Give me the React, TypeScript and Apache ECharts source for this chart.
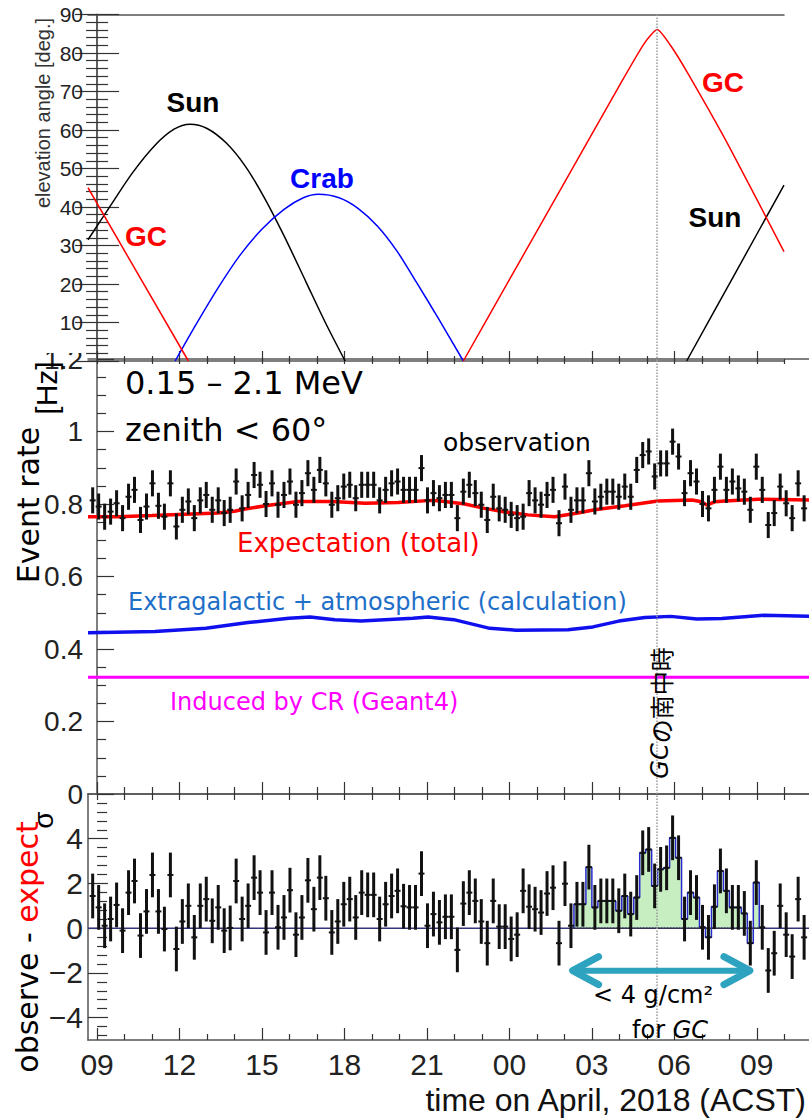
import React, { useEffect, useRef } from 'react';
import * as echarts from 'echarts';

const W = 809;
const H = 1120;

// Time axis: hours since 09:00 ACST on the first day of the run
const X_MIN = -0.33;
const X_MAX_TOP = 24.98;
const X_MAX = 25.9;

const majorHours = [0, 3, 6, 9, 12, 15, 18, 21, 24];
const majorHourLabels = ['09', '12', '15', '18', '21', '00', '03', '06', '09'];
const hourlyTicks = [0, 1, 2, 3, 4, 5, 6, 7, 8, 9, 10, 11, 12, 13, 14, 15, 16, 17, 18, 19, 20, 21, 22, 23, 24, 25];

// Transit of the Galactic Centre (hours)
const GC_TRANSIT = 20.37;

// Elevation angles [hour, deg]
const sunDay1 = [[-0.33, 31.5], [0.5, 40.5], [1.3, 49.0], [2.1, 56.0], [2.8, 60.2], [3.38, 61.5], [4.0, 60.4], [4.7, 56.6], [5.4, 50.5], [6.1, 42.2], [6.8, 32.5], [7.6, 20.5], [8.3, 10.0], [9.02, 0]];
const sunDay2 = [[21.44, 0], [23.2, 22.7], [24.98, 45.7]];
const crabElev = [[2.84, 0], [3.6, 9.5], [4.4, 19.0], [5.2, 27.5], [6.0, 34.3], [6.8, 39.4], [7.5, 42.4], [8.05, 43.3], [8.8, 42.4], [9.5, 39.6], [10.2, 35.0], [10.9, 28.6], [11.6, 20.6], [12.4, 11.2], [13.32, 0]];
const gcDay1 = [[-0.33, 45.0], [3.32, 0]];
const gcDay2 = [[13.32, 0], [15, 21.2], [17, 46.4], [19, 71.6], [19.9, 82.5], [20.37, 86.1], [20.85, 82], [21.5, 74.5], [23, 55.5], [24.98, 28.4]];

// Event-rate bins: centre of the first bin and bin width (hours)
const BIN_START = -0.16;
const BIN_W = 0.2175;

// Observed event rate [Hz], 0.15-2.1 MeV, zenith < 60 deg
const obsRate = [
  0.81, 0.793, 0.765, 0.779, 0.802, 0.761, 0.82, 0.839, 0.756, 0.793,
  0.857, 0.795, 0.765, 0.857, 0.738, 0.784, 0.807, 0.761, 0.81, 0.825,
  0.784, 0.81, 0.775, 0.784, 0.862, 0.788, 0.825, 0.88, 0.853, 0.80,
  0.857, 0.798, 0.825, 0.862, 0.798, 0.83, 0.885, 0.839, 0.894, 0.857,
  0.798, 0.816, 0.848, 0.853, 0.816, 0.853, 0.853, 0.853, 0.81, 0.839,
  0.857, 0.862, 0.839, 0.839, 0.839, 0.899, 0.81, 0.83, 0.816, 0.825,
  0.825, 0.761, 0.834, 0.853, 0.83, 0.798, 0.756, 0.82, 0.788, 0.784,
  0.77, 0.761, 0.765, 0.83, 0.81, 0.798, 0.825, 0.839, 0.747, 0.848,
  0.784, 0.81, 0.81, 0.885, 0.807, 0.82, 0.834, 0.834, 0.82, 0.848,
  0.82, 0.894, 0.935, 0.945, 0.876, 0.912, 0.912, 0.972, 0.931, 0.83,
  0.885, 0.862, 0.80, 0.788, 0.839, 0.903, 0.839, 0.862, 0.843, 0.834,
  0.784, 0.903, 0.839, 0.742, 0.775, 0.848, 0.802, 0.761, 0.857, 0.788,
];
const OBS_ERR = 0.036;

// (observed - expected) / sigma for the same bins
const residual = [
  1.44, 0.93, 0.11, 0.41, 1.04, -0.11, 1.59, 2.11, -0.33, 0.75,
  2.38, 0.75, -0.04, 2.38, -0.93, 0.30, 1.0, -0.41, 1.0, 1.3,
  0.33, 0.93, -0.11, 0.01, 2.11, 0.41, 1.0, 2.26, 1.59, -0.19,
  1.59, 0.04, 0.48, 1.70, -0.29, 0.48, 2.14, 0.85, 2.26, 1.34,
  -0.19, 0.30, 1.07, 1.30, 0.48, 1.59, 1.49, 1.49, 0.41, 1.07,
  1.44, 1.67, 0.98, 0.93, 0.93, 2.44, 0.11, 0.63, 0.26, 0.51,
  0.51, -0.97, 1.10, 1.59, 1.22, 0.30, -0.67, 1.22, 0.07, 0.07,
  -0.48, -0.29, 1.67, 0.96, 0.85, 0.70, 1.55, 1.81, -0.67, 1.99,
  0.11, 1.07, 1.07, 2.73, 0.93, 1.22, 1.22, 1.22, 0.78, 1.44,
  0.63, 1.37, 3.37, 3.52, 1.89, 2.63, 2.70, 4.04, 3.15, 0.41,
  1.59, 1.37, 0.04, -0.41, 0.96, 2.56, 1.67, 0.93, 0.93, 0.66,
  -0.67, 2.04, 0.04, -1.89, -1.12, 1.0, -0.29, -1.27, 1.30, -0.41,
];
const RES_ERR = 1;

// Bins where the column depth towards the GC is < 4 g/cm^2
const excessFirstBin = 81;
const excessLastBin = 111;
const depthWindow = [17.3, 23.75];
const depthArrowLevel = -1.9;

// Expected rates [hour, Hz]
const expectTotal = [[-0.33, 0.765], [0.76, 0.765], [2.0, 0.768], [3.2, 0.772], [4.4, 0.775], [5.0, 0.78], [5.38, 0.786], [6.11, 0.795], [7.31, 0.807], [8.55, 0.807], [9.75, 0.802], [10.95, 0.804], [12.18, 0.81], [12.65, 0.807], [13.38, 0.80], [14.1, 0.788], [14.84, 0.778], [15.67, 0.77], [16.65, 0.765], [17.49, 0.775], [18.1, 0.784], [19.2, 0.795], [20.4, 0.808], [21.64, 0.811], [22.0, 0.806], [22.18, 0.797], [22.47, 0.806], [22.84, 0.808], [24.04, 0.813], [25.9, 0.811]];
const extragalactic = [[-0.33, 0.445], [2.11, 0.448], [3.96, 0.457], [5.49, 0.473], [6.98, 0.485], [7.75, 0.488], [8.65, 0.481], [9.6, 0.477], [11.49, 0.485], [12.04, 0.488], [12.98, 0.481], [14.29, 0.457], [15.24, 0.452], [17.13, 0.453], [18.04, 0.461], [18.98, 0.477], [19.93, 0.487], [20.87, 0.49], [21.82, 0.483], [22.73, 0.484], [24.25, 0.493], [25.9, 0.49]];
const crInduced = [[-0.33, 0.322], [25.9, 0.322]];

const resMajorTicks = [-4, -2, 0, 2, 4];
const resMinorTicks = [-4.8, -4.4, -3.6, -3.2, -2.8, -2.4, -1.6, -1.2, -0.8, -0.4, 0.4, 0.8, 1.2, 1.6, 2.4, 2.8, 3.2, 3.6, 4.4, 4.8, 5.2, 5.6];

const HELV = 'Liberation Sans, Arial, sans-serif';
const HAND = 'DejaVu Sans, sans-serif';
const AXIS = '#555';
const TICK = '#333';

const binCentre = (i: number) => BIN_START + i * BIN_W;

function tickAxis(grid: number, position: string, max: number, values: number[], length: number, showLine: boolean, extra: any = {}) {
  return {
    type: 'value',
    gridIndex: grid,
    position,
    min: X_MIN,
    max,
    axisLine: { show: showLine, onZero: false, lineStyle: { color: AXIS, width: 1.5 } },
    axisTick: { show: values.length > 0, inside: true, length, customValues: values, lineStyle: { color: TICK, width: 1.2 } },
    axisLabel: { show: false },
    splitLine: { show: false },
    ...extra,
  };
}

function errorBars(err: number) {
  return (params: any, api: any) => {
    const x = api.value(0);
    const y = api.value(1);
    const c = api.coord([x, y]);
    const hi = api.coord([x, y + err]);
    const lo = api.coord([x, y - err]);
    const hw = api.size([BIN_W, 0])[0] / 2;
    return {
      type: 'group',
      children: [
        { type: 'line', shape: { x1: c[0], y1: lo[1], x2: c[0], y2: hi[1] }, style: { stroke: '#111', lineWidth: 3 } },
        { type: 'line', shape: { x1: c[0] - hw, y1: c[1], x2: c[0] + hw, y2: c[1] }, style: { stroke: '#111', lineWidth: 2 } },
      ],
    };
  };
}

function label(text: string, x: number, y: number, size: number, color: string, opts: any = {}) {
  return {
    type: 'text',
    x,
    y,
    rotation: opts.rotation || 0,
    z: 50,
    style: {
      text,
      fontSize: size,
      fontFamily: opts.family || HAND,
      fontWeight: opts.weight || 'normal',
      fill: color,
      textAlign: opts.align || 'left',
      textVerticalAlign: 'middle',
      rich: opts.rich,
    },
  };
}

const transitLine = {
  silent: true,
  symbol: 'none',
  label: { show: false },
  lineStyle: { color: '#9a9a9a', type: 'dotted', width: 1.5 },
  data: [{ xAxis: GC_TRANSIT }],
};

const signed = (v: number) => (v < 0 ? '\u2212' + String(-v) : String(v));

export default function App() {
  const ref = useRef<HTMLDivElement>(null);

  useEffect(() => {
    if (!ref.current) return;
    const chart = echarts.init(ref.current, undefined, { renderer: 'svg' });

    const obsData = obsRate.map((v, i) => [binCentre(i), v]);
    const resData = residual.map((v, i) => [binCentre(i), v]);
    const excessData: number[][] = [[binCentre(excessFirstBin - 1), 0]];
    for (let i = excessFirstBin; i <= excessLastBin; i++) excessData.push([binCentre(i), residual[i]]);
    excessData.push([binCentre(excessLastBin + 1), 0]);
    const excessBase = [
      [binCentre(excessFirstBin) - BIN_W / 2, 0],
      [binCentre(excessLastBin) + BIN_W / 2, 0],
    ];

    const topHours = hourlyTicks.filter((h) => h <= X_MAX_TOP);
    const topMinor = topHours.filter((h) => !majorHours.includes(h));
    const lowMinor = hourlyTicks.filter((h) => !majorHours.includes(h));

    const option: any = {
      animation: false,
      backgroundColor: '#fff',
      grid: [
        { left: 88, top: 14.5, width: 696, height: 346.5, outerBoundsMode: 'none' },
        { left: 88, top: 359, width: 721, height: 435, outerBoundsMode: 'none' },
        { left: 88, top: 794, width: 721, height: 246, outerBoundsMode: 'none' },
      ],
      xAxis: [
        tickAxis(0, 'bottom', X_MAX_TOP, majorHours, 10, true),
        tickAxis(0, 'bottom', X_MAX_TOP, topMinor, 5, false),
        tickAxis(0, 'top', X_MAX_TOP, [], 0, true),
        tickAxis(1, 'bottom', X_MAX, majorHours, 12, true),
        tickAxis(1, 'bottom', X_MAX, lowMinor, 7, false),
        tickAxis(1, 'top', X_MAX, hourlyTicks, 5, true),
        tickAxis(2, 'bottom', X_MAX, majorHours, 12, true, {
          axisLabel: {
            show: true,
            customValues: majorHours,
            fontSize: 30,
            fontFamily: HELV,
            color: '#222',
            margin: 9,
            formatter: (v: number) => majorHourLabels[majorHours.indexOf(Math.round(v))] ?? '',
          },
        }),
        tickAxis(2, 'bottom', X_MAX, lowMinor, 6, false),
        tickAxis(2, 'top', X_MAX, hourlyTicks, 6, true),
      ],
      yAxis: [
        {
          type: 'value', gridIndex: 0, position: 'left', min: 0, max: 90, interval: 10,
          axisLine: { show: true, lineStyle: { color: AXIS, width: 1.5 } },
          axisTick: { show: true, inside: true, length: 22, lineStyle: { color: TICK, width: 1.2 } },
          minorTick: { show: true, splitNumber: 5, length: 11, lineStyle: { color: TICK, width: 1.2 } },
          axisLabel: { fontSize: 21, fontFamily: HELV, color: '#222', margin: 5, formatter: (v: number) => (v === 0 ? '' : String(v)) },
          splitLine: { show: false },
        },
        {
          type: 'value', gridIndex: 0, position: 'right', min: 0, max: 90, interval: 10,
          axisLine: { show: true, lineStyle: { color: AXIS, width: 1.5 } },
          axisTick: { show: true, inside: true, length: 22, lineStyle: { color: TICK, width: 1.2 } },
          minorTick: { show: true, splitNumber: 5, length: 11, lineStyle: { color: TICK, width: 1.2 } },
          axisLabel: { show: false },
          splitLine: { show: false },
        },
        {
          type: 'value', gridIndex: 1, position: 'left', min: 0, max: 1.2, interval: 0.2,
          axisLine: { show: true, lineStyle: { color: AXIS, width: 1.5 } },
          axisTick: { show: true, inside: true, length: 17, lineStyle: { color: TICK, width: 1.2 } },
          minorTick: { show: true, splitNumber: 4, length: 9, lineStyle: { color: TICK, width: 1.2 } },
          axisLabel: { fontSize: 28, fontFamily: HELV, color: '#222', margin: 5 },
          splitLine: { show: false },
        },
        {
          type: 'value', gridIndex: 2, position: 'left', min: -5, max: 6,
          axisLine: { show: true, onZero: false, lineStyle: { color: AXIS, width: 1.5 } },
          axisTick: { show: true, inside: true, length: 20, customValues: resMajorTicks, lineStyle: { color: TICK, width: 1.2 } },
          axisLabel: { customValues: resMajorTicks, fontSize: 30, fontFamily: HELV, color: '#222', margin: 5, formatter: signed },
          splitLine: { show: false },
        },
        {
          type: 'value', gridIndex: 2, position: 'left', min: -5, max: 6,
          axisLine: { show: false },
          axisTick: { show: true, inside: true, length: 10, customValues: resMinorTicks, lineStyle: { color: TICK, width: 1.2 } },
          axisLabel: { show: false },
          splitLine: { show: false },
        },
      ],
      series: [
        // elevation angles
        { type: 'line', xAxisIndex: 0, yAxisIndex: 0, data: sunDay1, smooth: 0.3, symbol: 'none', lineStyle: { color: '#000', width: 1.5 } },
        { type: 'line', xAxisIndex: 0, yAxisIndex: 0, data: sunDay2, smooth: 0.3, symbol: 'none', lineStyle: { color: '#000', width: 1.5 } },
        { type: 'line', xAxisIndex: 0, yAxisIndex: 0, data: crabElev, smooth: 0.3, symbol: 'none', lineStyle: { color: '#0000ff', width: 1.5 } },
        { type: 'line', xAxisIndex: 0, yAxisIndex: 0, data: gcDay1, symbol: 'none', lineStyle: { color: '#ff0000', width: 1.5 } },
        { type: 'line', xAxisIndex: 0, yAxisIndex: 0, data: gcDay2, smooth: 0.2, symbol: 'none', lineStyle: { color: '#ff0000', width: 1.5 }, markLine: transitLine },

        // event rates
        { type: 'line', xAxisIndex: 3, yAxisIndex: 2, data: crInduced, symbol: 'none', lineStyle: { color: '#ff00ff', width: 3 }, markLine: transitLine },
        { type: 'line', xAxisIndex: 3, yAxisIndex: 2, data: extragalactic, symbol: 'none', lineStyle: { color: '#1010ee', width: 3.5 } },
        { type: 'line', xAxisIndex: 3, yAxisIndex: 2, data: expectTotal, symbol: 'none', lineStyle: { color: '#ff0000', width: 3.5 } },
        { type: 'custom', xAxisIndex: 3, yAxisIndex: 2, data: obsData, clip: true, renderItem: errorBars(OBS_ERR), z: 5 },

        // residuals
        {
          type: 'line', xAxisIndex: 6, yAxisIndex: 3, data: excessData, step: 'middle', symbol: 'none',
          lineStyle: { color: '#2a2ad0', width: 1.5 }, areaStyle: { color: '#c6eec0', origin: 0, opacity: 1 }, z: 1,
        },
        { type: 'line', xAxisIndex: 6, yAxisIndex: 3, data: [[X_MIN, 0], [X_MAX, 0]], symbol: 'none', lineStyle: { color: '#34347a', width: 1.5 }, markLine: transitLine, z: 2 },
        { type: 'line', xAxisIndex: 6, yAxisIndex: 3, data: excessBase, symbol: 'none', lineStyle: { color: '#333', width: 1.5, type: 'dotted' }, z: 3 },
        { type: 'custom', xAxisIndex: 6, yAxisIndex: 3, data: resData, clip: true, renderItem: errorBars(RES_ERR), z: 5 },
        {
          type: 'custom', xAxisIndex: 6, yAxisIndex: 3, z: 6,
          data: [[depthWindow[0], depthWindow[1], depthArrowLevel]],
          renderItem: (params: any, api: any) => {
            const a = api.coord([api.value(0), api.value(2)]);
            const b = api.coord([api.value(1), api.value(2)]);
            const head = 26;
            const half = 14;
            const st = { stroke: '#2ea3bf', lineWidth: 7, lineCap: 'round', lineJoin: 'round', fill: null };
            return {
              type: 'group',
              children: [
                { type: 'line', shape: { x1: a[0] + 3, y1: a[1], x2: b[0] - 3, y2: b[1] }, style: { ...st, lineWidth: 6 } },
                { type: 'polyline', shape: { points: [[a[0] + head, a[1] - half], [a[0], a[1]], [a[0] + head, a[1] + half]] }, style: st },
                { type: 'polyline', shape: { points: [[b[0] - head, b[1] - half], [b[0], b[1]], [b[0] - head, b[1] + half]] }, style: st },
              ],
            };
          },
        },
      ],
      graphic: [
        // covers the top of the lower figure's "1.2" label
        { type: 'rect', shape: { x: 36, y: 330, width: 50, height: 23 }, style: { fill: '#fff' }, z: 40 },

        label('elevation angle [deg.]', 43, 113, 20, '#333', { rotation: Math.PI / 2, family: HELV, align: 'center' }),
        label('Sun', 193, 102, 28, '#000', { family: HELV, weight: 'bold', align: 'center' }),
        label('Crab', 322, 178, 28, '#0000ff', { family: HELV, weight: 'bold', align: 'center' }),
        label('GC', 146, 236, 28, '#ff0000', { family: HELV, weight: 'bold', align: 'center' }),
        label('GC', 723, 82, 28, '#ff0000', { family: HELV, weight: 'bold', align: 'center' }),
        label('Sun', 715, 217, 28, '#000', { family: HELV, weight: 'bold', align: 'center' }),

        label('0.15 – 2.1 MeV', 125, 383, 32, '#000'),
        label('zenith < 60°', 125, 430, 32, '#000'),
        label('observation', 517, 442, 25, '#000', { align: 'center' }),
        label('Expectation (total)', 237, 543, 26, '#ff0000'),
        label('Extragalactic + atmospheric (calculation)', 128, 602, 24, '#1e6fc8'),
        label('Induced by CR (Geant4)', 170, 702, 24, '#ff00ff'),
        label('{g|GC}{j|の南中時}', 660, 713, 24, '#000', {
          rotation: Math.PI / 2,
          align: 'center',
          rich: {
            g: { fontSize: 24, fontFamily: HAND, fontStyle: 'italic', fill: '#000' },
            j: { fontSize: 24, fontFamily: 'Noto Sans CJK JP', fill: '#000' },
          },
        }),
        label('Event rate', 28, 505, 30, '#000', { rotation: Math.PI / 2, align: 'center' }),
        label('[Hz]', 46, 388, 30, '#000', { rotation: Math.PI / 2, family: HELV, align: 'center' }),

        label('{k|observe - }{r|expect}', 27, 947, 30, '#000', {
          rotation: Math.PI / 2,
          align: 'center',
          rich: {
            k: { fontSize: 30, fontFamily: HAND, fill: '#000' },
            r: { fontSize: 30, fontFamily: HAND, fill: '#ff0000' },
          },
        }),
        label('σ', 43, 820, 28, '#000', { rotation: Math.PI / 2, family: HELV, align: 'center' }),
        label('< 4 g/cm²', 653, 995, 24, '#000', { align: 'center' }),
        label('{a|for }{b|GC}', 670, 1030, 24, '#000', {
          align: 'center',
          rich: {
            a: { fontSize: 24, fontFamily: HAND, fill: '#000' },
            b: { fontSize: 24, fontFamily: HAND, fontStyle: 'italic', fill: '#000' },
          },
        }),
        label('time on April, 2018 (ACST)', 806, 1100, 32, '#111', { family: HELV, align: 'right' }),
      ],
    };

    chart.setOption(option);
    return () => chart.dispose();
  }, []);

  return (
    <div
      ref={ref}
      style={{ position: 'fixed', left: 0, top: 0, width: W, height: H, background: '#fff' }}
    />
  );
}
